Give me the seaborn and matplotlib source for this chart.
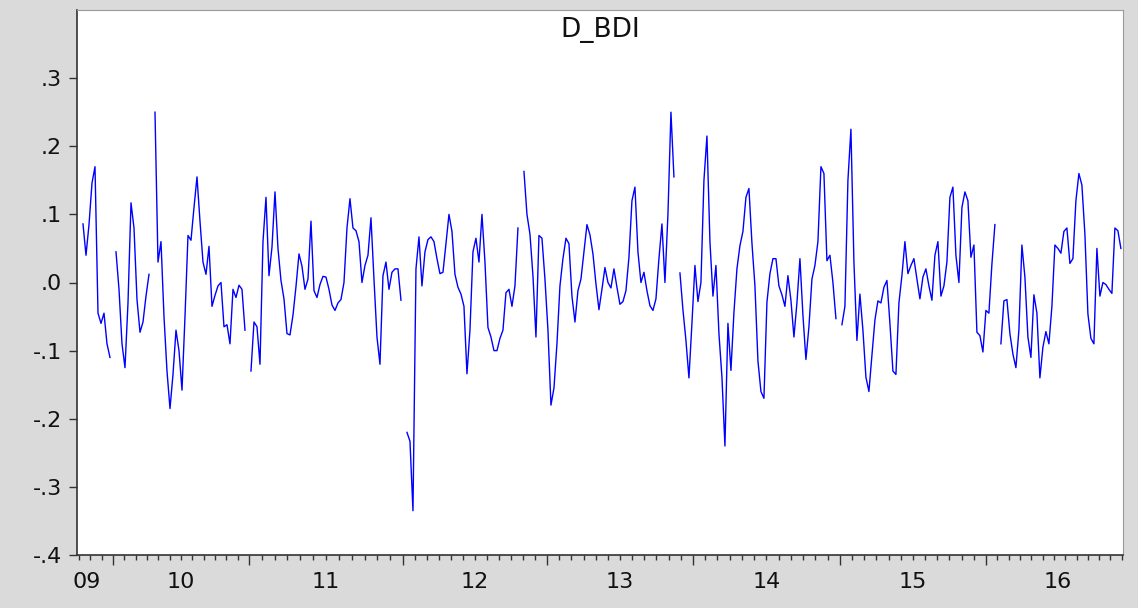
import numpy as np
import pandas as pd
import matplotlib
matplotlib.use("Agg")
import matplotlib.pyplot as plt
import seaborn as sns

nan = float("nan")

title = "D_BDI"

# D_BDI, one value per observation (nan = missing observation)
d_bdi = [
    0.086, 0.04, 0.085, 0.146, 0.17, -0.045, -0.06, -0.045, -0.09, -0.11,
    nan, 0.045, -0.01, -0.09, -0.125, -0.03, 0.117, 0.08, -0.025, -0.073,
    -0.058, -0.02, 0.012, nan, 0.25, 0.03, 0.06, -0.05, -0.13, -0.185,
    -0.135, -0.07,
    -0.1, -0.158, -0.05, 0.069, 0.062, 0.11, 0.155, 0.09, 0.03, 0.012,
    0.053, -0.035, -0.019, -0.005, 0.0, -0.065, -0.062, -0.09, -0.01, -0.022,
    -0.004, -0.01, -0.07, nan, -0.13, -0.058, -0.065, -0.12, 0.06, 0.125,
    0.01,
    0.052, 0.133, 0.05, 0.003, -0.024, -0.075, -0.077, -0.048, -0.006, 0.042,
    0.024, -0.01, 0.005, 0.09, -0.012, -0.022, -0.003, 0.009, 0.008, -0.01,
    -0.033, -0.041, -0.03, -0.025, 0.0, 0.08, 0.123, 0.08, 0.076, 0.06,
    0.0, 0.025,
    0.04, 0.095, 0.005, -0.08, -0.12, 0.01, 0.03, -0.01, 0.015, 0.02,
    0.02, -0.026, nan, -0.22, -0.233, -0.335, 0.02, 0.067, -0.005, 0.045,
    0.063, 0.067, 0.06, 0.035, 0.013, 0.015, 0.057, 0.1, 0.075, 0.012,
    -0.007,
    -0.017, -0.035, -0.134, -0.07, 0.045, 0.065, 0.03, 0.1, 0.03, -0.066,
    -0.08, -0.1, -0.1, -0.082, -0.07, -0.015, -0.01, -0.035, -0.005, 0.08,
    nan, 0.163, 0.1, 0.071, 0.01, -0.08, 0.069, 0.065, 0.005, -0.07,
    -0.18, -0.155,
    -0.09, -0.005, 0.035, 0.065, 0.057, -0.02, -0.058, -0.012, 0.005, 0.045,
    0.085, 0.07, 0.042, -0.002, -0.04, -0.01, 0.022, 0.0, -0.008, 0.02,
    -0.007, -0.032, -0.028, -0.012, 0.037, 0.12, 0.14, 0.045, 0.0, 0.015,
    -0.012, -0.034,
    -0.041, -0.024, 0.035, 0.086, 0.0, 0.1, 0.25, 0.155, nan, 0.014,
    -0.04, -0.085, -0.14, -0.06, 0.025, -0.028, 0.0, 0.15, 0.215, 0.06,
    -0.02, 0.025, -0.075, -0.139, -0.24, -0.06, -0.129, -0.044, 0.02, 0.054,
    0.075,
    0.125, 0.138, 0.058, -0.005, -0.115, -0.16, -0.17, -0.029, 0.013, 0.035,
    0.035, -0.005, -0.018, -0.035, 0.01, -0.026, -0.08, -0.03, 0.035, -0.048,
    -0.113, -0.065, 0.005, 0.025, 0.06, 0.17, 0.16, 0.032, 0.04, 0.0,
    -0.053, nan,
    -0.062, -0.035, 0.15, 0.225, 0.03, -0.085, -0.017, -0.07, -0.139, -0.16,
    -0.107, -0.055, -0.027, -0.03, -0.007, 0.003, -0.06, -0.13, -0.135, -0.03,
    0.01, 0.06, 0.013, 0.025, 0.035, 0.005, -0.024, 0.008, 0.02, -0.005,
    -0.026, 0.04,
    0.06, -0.02, -0.005, 0.03, 0.125, 0.14, 0.04, 0.0, 0.11, 0.133,
    0.12, 0.037, 0.055, -0.073, -0.078, -0.102, -0.041, -0.045, 0.027, 0.085,
    nan, -0.09, -0.027, -0.025, -0.075, -0.105, -0.125, -0.07, 0.055, 0.008,
    -0.08,
    -0.11, -0.018, -0.045, -0.14, -0.095, -0.072, -0.09, -0.035, 0.055, 0.05,
    0.043, 0.075, 0.08, 0.028, 0.035, 0.12, 0.16, 0.143, 0.071, -0.046,
    -0.082, -0.09, 0.05, -0.02, 0.0, -0.003, -0.01, -0.016, 0.08, 0.076,
    0.05,
]

year_labels = ["09", "10", "11", "12", "13", "14", "15", "16"]
# observation index at which each year 2010..2016 begins
year_starts = [10.0, 55.3, 106.7, 154.7, 203.3, 252.3, 301.0]

y_ticks = [0.3, 0.2, 0.1, 0.0, -0.1, -0.2, -0.3, -0.4]
y_tick_labels = [".3", ".2", ".1", ".0", "-.1", "-.2", "-.3", "-.4"]

# ---------------------------------------------------------------
vals = np.array(d_bdi, dtype=float)
obs = np.arange(len(vals))
seg = np.cumsum(np.isnan(vals))
df = pd.DataFrame({"obs": obs, "val": vals, "seg": seg}).dropna()

plt.rcParams["font.family"] = ["DejaVu Sans"]

W, H = 1138, 608
fig = plt.figure(figsize=(W / 100, H / 100), dpi=100, facecolor="#dadada")
ax = fig.add_axes([77 / W, 53 / H, 1046 / W, 545 / H])
ax.set_facecolor("white")

sns.lineplot(data=df, x="obs", y="val", units="seg", estimator=None,
             color="#0000ff", linewidth=1.0, ax=ax, legend=False)

xmin, xmax = -2.0, 346.7
ax.set_xlim(xmin, xmax)
ax.set_ylim(-0.4, 0.4)
ax.set_xlabel("")
ax.set_ylabel("")

# y axis
ax.set_yticks(y_ticks)
ax.set_yticklabels(y_tick_labels, fontsize=16, color="#111111")

# x axis: year boundaries (major) and months (minor)
ax.set_xticks(year_starts)
ax.set_xticklabels([""] * len(year_starts))
month = (year_starts[1] - year_starts[0]) / 12.0
minor = []
t = year_starts[0] - month
while t > xmin:
    minor.append(t)
    t -= month
for a, b in zip(year_starts[:-1], year_starts[1:]):
    minor += [a + (b - a) * i / 12.0 for i in range(1, 12)]
t = year_starts[-1] + month
while t < xmax:
    minor.append(t)
    t += month
ax.set_xticks(minor, minor=True)

# label of each year centred on its visible span
bounds = [xmin - 5.4] + year_starts + [year_starts[-1] + 48.0]
for i, lab in enumerate(year_labels):
    c = (bounds[i] + bounds[i + 1]) / 2.0
    ax.text(c, -0.05, lab, transform=ax.get_xaxis_transform(),
            ha="center", va="center", fontsize=16, color="#111111")

ax.tick_params(axis="x", which="major", direction="out", length=7, width=1, color="#333333")
ax.tick_params(axis="x", which="minor", direction="out", length=3.5, width=1, color="#333333")
ax.tick_params(axis="y", which="major", direction="out", length=6, width=1, color="#333333", pad=5)

for side in ["left", "bottom"]:
    ax.spines[side].set_color("#333333")
    ax.spines[side].set_linewidth(1.2)
for side in ["top", "right"]:
    ax.spines[side].set_color("#9a9a9a")
    ax.spines[side].set_linewidth(0.8)

ax.text(0.5, 0.964, title, transform=ax.transAxes, ha="center", va="center",
        fontsize=19, color="#111111")

fig.savefig("out.png", dpi=100, facecolor=fig.get_facecolor())
